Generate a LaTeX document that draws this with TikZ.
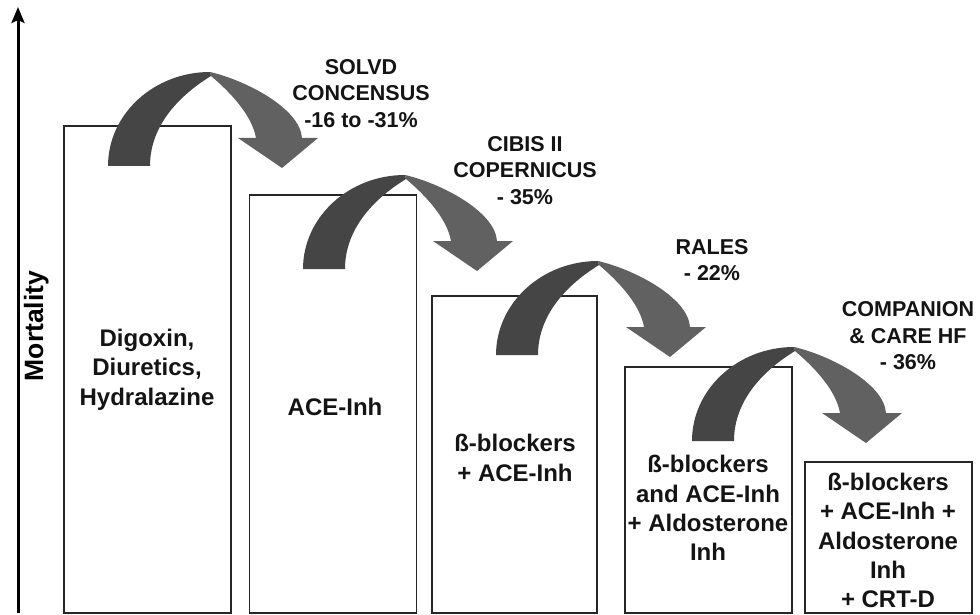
\documentclass[tikz,border=0pt]{standalone}
\usepackage{fontspec}
\setmainfont{Liberation Sans}
\usetikzlibrary{arrows.meta}
\definecolor{arrdark}{gray}{0.27}
\definecolor{arrlight}{gray}{0.38}
\definecolor{barline}{gray}{0.15}
\tikzset{
  barbox/.style={draw=barline, line width=1.1pt, inner sep=0pt, outer sep=0pt, minimum width=167pt},
  bartext/.style={font=\bfseries\fontsize{24}{29.3}\selectfont, align=center, inner sep=0pt, text=black!92},
  notetext/.style={font=\bfseries\fontsize{21.5}{26.5}\selectfont, align=center, inner sep=0pt, text=black!92},
  bigarrow/.pic={
    \fill[arrdark] (108,166) .. controls (108,114) and (154,72) .. (210,72)
      -- (211,76) .. controls (180,95) and (150,125) .. (150,166) -- cycle;
    \fill[arrlight] (210,72) .. controls (245,80) and (300,108) .. (302,138)
      -- (318,138) -- (282,168) -- (238,138) -- (256,138)
      .. controls (252,115) and (230,92) .. (211,76) -- cycle;
  }
}
\begin{document}
\begin{tikzpicture}[x=1pt,y=-1pt]
\useasboundingbox (0,0) rectangle (980,615);
% axis
\coordinate (ax0) at (18,613);
\coordinate (ax1) at (18,7);
\draw[line width=3pt, -{Stealth[length=16pt,width=13pt,inset=3pt]}] (ax0) -- (ax1);
\node[font=\bfseries\fontsize{26.5}{30}\selectfont, rotate=90, anchor=base, inner sep=0pt] (mort) at (43,326) {Mortality};
% bars
\node[barbox, minimum height=487pt] (b1) at (147.5,369.5) {};
\node[barbox, minimum height=418pt] (b2) at (333,404) {};
\node[barbox, minimum height=317pt, minimum width=165pt] (b3) at (514.5,454.5) {};
\node[barbox, minimum height=246pt] (b4) at (708.5,490) {};
\node[barbox, minimum height=151pt] (b5) at (888.5,537.5) {};
% arrows
\pic at (0,0) {bigarrow};
\pic at (195,103) {bigarrow};
\pic at (388,189) {bigarrow};
\pic at (584,275) {bigarrow};
% bar texts
\node[bartext] (t1) at (147,369.5) {Digoxin,\\Diuretics,\\Hydralazine};
\node[bartext] (t2) at (335,407) {ACE-Inh};
\node[bartext] (t3) at (515,458) {ß-blockers\\+ ACE-Inh};
\node[bartext] (t4) at (708,508) {ß-blockers\\and ACE-Inh\\+ Aldosterone\\Inh};
\node[bartext] (t5) at (888,540.5) {ß-blockers\\+ ACE-Inh +\\Aldosterone\\Inh\\+ CRT-D};
% trial notes
\node[notetext] (n1) at (361,93.5) {SOLVD\\CONCENSUS\\-16 to -31\%};
\node[notetext] (n2) at (525,170.5) {CIBIS II\\COPERNICUS\\- 35\%};
\node[notetext] (n3) at (712,260) {RALES\\- 22\%};
\node[notetext] (n4) at (908,336) {COMPANION\\\& CARE HF\\- 36\%};
\end{tikzpicture}
\end{document}
